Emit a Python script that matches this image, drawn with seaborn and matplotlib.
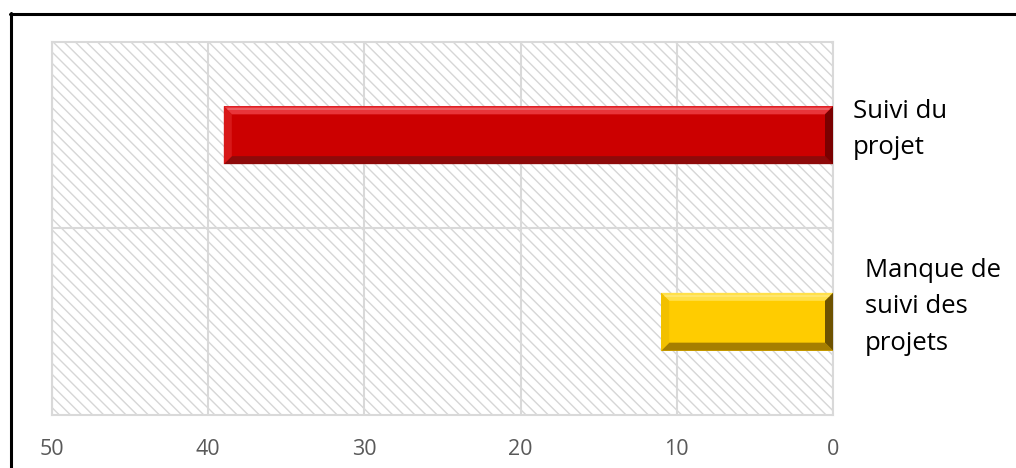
import matplotlib
matplotlib.use("Agg")
import matplotlib.pyplot as plt
import matplotlib.patches as mpatches
from matplotlib.lines import Line2D
from matplotlib.transforms import IdentityTransform
import seaborn as sns
import pandas as pd

categories = ["Suivi du\nprojet", "Manque de\nsuivi des\nprojets"]
values = [39, 11]
x_ticks = [0, 10, 20, 30, 40, 50]

# face, top bevel, left bevel, bottom bevel, right bevel
palettes = [
    ("#CC0000", "#E8353A", "#D81818", "#8E0A0A", "#7A0000"),
    ("#FFCC00", "#FFE04A", "#F2C000", "#A67E00", "#6E5200"),
]

sns.set_theme(style="white")
plt.rcParams["font.family"] = ["Open Sans", "DejaVu Sans"]
plt.rcParams["hatch.linewidth"] = 1.0

df = pd.DataFrame({"cat": categories, "val": values})

fig = plt.figure(figsize=(10.16, 4.68), dpi=100)
ax = fig.add_axes([52 / 1016, 53 / 468, 781 / 1016, 373 / 468])

sns.barplot(data=df, y="cat", x="val", hue="cat", orient="h",
            palette=[p[0] for p in palettes], legend=False, saturation=1,
            width=0.31, linewidth=0, ax=ax, zorder=3)

ax.set_xlim(50, 0)
ax.set_ylim(1.5, -0.5)
ax.set_xticks(x_ticks)
ax.set_xticklabels([str(t) for t in x_ticks])
ax.set_yticks([0.5])
ax.set_yticklabels([])
ax.set_xlabel("")
ax.set_ylabel("")

grid_c = "#D9D9D9"
ax.grid(True, axis="both", color=grid_c, linewidth=1.5, zorder=1)
ax.set_axisbelow(True)
for s in ax.spines.values():
    s.set_color(grid_c)
    s.set_linewidth(1.5)
ax.tick_params(axis="both", length=0)
ax.tick_params(axis="x", pad=17, labelsize=15.5, labelcolor="#595959")

# diagonal hatched backdrop of the plot area
ax.add_patch(mpatches.Rectangle((0, 0), 1, 1, transform=ax.transAxes,
                                facecolor="white", edgecolor="#D6D6D6",
                                hatch="\\" * 3, linewidth=0, zorder=0))

# bevelled faces on each bar
fig.canvas.draw()
bev = 8
for patch, pal in zip(ax.patches[:len(values)], palettes):
    face, top_c, left_c, bot_c, right_c = pal
    x0, y0 = patch.get_x(), patch.get_y()
    x1, y1 = x0 + patch.get_width(), y0 + patch.get_height()
    (ax_, ay_), (bx_, by_) = ax.transData.transform([(x0, y0), (x1, y1)])
    L, R = min(ax_, bx_), max(ax_, bx_)
    B, T = min(ay_, by_), max(ay_, by_)
    b = bev
    polys = [
        ([(L, T), (R, T), (R - b, T - b), (L + b, T - b)], top_c),
        ([(L, B), (R, B), (R - b, B + b), (L + b, B + b)], bot_c),
        ([(L, B), (L, T), (L + b, T - b), (L + b, B + b)], left_c),
        ([(R, B), (R, T), (R - b, T - b), (R - b, B + b)], right_c),
    ]
    for pts, c in polys:
        fig.add_artist(mpatches.Polygon(pts, closed=True, facecolor=c,
                                        edgecolor="none",
                                        transform=IdentityTransform(),
                                        zorder=4))
    # highlight streak across the top bevel
    fig.add_artist(Line2D([L + 4, R - 4], [T - 3, T - 3], color="white",
                          alpha=0.25, linewidth=1.2,
                          transform=IdentityTransform(), zorder=5))

# category labels to the right of the plot area
label_dx = [0.025, 0.041]
label_dy = [-0.03, -0.08]
for i, cat in enumerate(categories):
    ax.text(1 + label_dx[i], i + label_dy[i], cat,
            transform=ax.get_yaxis_transform(), ha="left", va="center",
            fontsize=18.5, color="#000000", linespacing=1.6)

# outer frame
fig.add_artist(Line2D([10.5 / 1016, 10.5 / 1016], [0, (468 - 13) / 468],
                      color="black", linewidth=2.2, transform=fig.transFigure))
fig.add_artist(Line2D([10 / 1016, 1], [(468 - 13.5) / 468, (468 - 13.5) / 468],
                      color="black", linewidth=2.2, transform=fig.transFigure))

fig.savefig("out.png", dpi=100, facecolor="white")
